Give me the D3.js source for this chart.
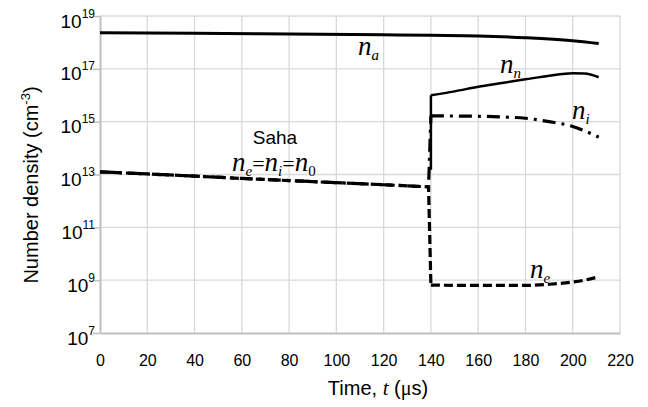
<!DOCTYPE html>
<html lang="en">
<head>
<meta charset="UTF-8">
<title>Number density vs time</title>
<script src="https://d3js.org/d3.v7.min.js"></script>
<style>
    body { margin: 0; background: #fff; }
    svg { display: block; }
    .grid line { stroke: #d9d9d9; stroke-width: 1.3; }
    .tick text { font-family: 'Liberation Sans', Arial, sans-serif; fill: #000; }
    .math { font-family: 'Liberation Serif', 'Times New Roman', serif; font-style: italic; fill: #000; }
</style>
</head>
<body>
<div id="chart"></div>
<script>
    // values (t in microseconds, densities in cm^-3)
    const xTicks = [0, 20, 40, 60, 80, 100, 120, 140, 160, 180, 200, 220];
    const yExponents = [7, 9, 11, 13, 15, 17, 19];

    const naTime = [0, 40, 80, 120, 140, 160, 180, 200, 211];
    const naValues = [2.3e18, 2.2e18, 2.1e18, 1.95e18, 1.85e18, 1.75e18, 1.5e18, 1.15e18, 0.9e18];

    // jump of n_n at t = 140, then the smooth rise
    const nnJump = [1.5e13, 1.0e16];
    const nnTime = [140, 150, 160, 170, 180, 190, 200, 205, 211];
    const nnValues = [1.0e16, 1.4e16, 2.1e16, 2.9e16, 4.0e16, 5.5e16, 6.8e16, 6.6e16, 4.8e16];

    // Saha regime: ne = ni = n0
    const sahaTime = [0, 20, 40, 60, 80, 100, 120, 139];
    const sahaValues = [1.26e13, 1.05e13, 8.7e12, 7.1e12, 5.9e12, 4.9e12, 4.1e12, 3.4e12];

    const niTime = [140, 160, 170, 180, 190, 200, 205, 211];
    const niValues = [1.65e15, 1.6e15, 1.5e15, 1.35e15, 1.0e15, 6.6e14, 4.5e14, 2.6e14];

    const neTime = [140, 160, 180, 190, 200, 205, 211];
    const neValues = [6.5e8, 6.3e8, 6.3e8, 7.0e8, 8.5e8, 1.0e9, 1.35e9];

    const W = 648, H = 407;
    const svg = d3.select("#chart").append("svg")
        .attr("width", W).attr("height", H);

    const x = d3.scaleLinear().domain([0, 220]).range([100, 620]);
    const y = d3.scaleLog().domain([1e7, 1e19]).range([333, 16]);
    const yTicks = yExponents.map(e => Math.pow(10, e));

    // gridlines
    svg.append("g").attr("class", "grid")
        .selectAll("line.v").data(xTicks.slice(1)).enter().append("line")
        .attr("x1", d => x(d)).attr("x2", d => x(d))
        .attr("y1", y(1e19)).attr("y2", y(1e7));
    svg.append("g").attr("class", "grid")
        .selectAll("line.h").data(yTicks.slice(1)).enter().append("line")
        .attr("x1", x(0)).attr("x2", x(220))
        .attr("y1", d => y(d)).attr("y2", d => y(d));

    // y axis
    const yAxis = svg.append("g")
        .attr("transform", `translate(${x(0)},0)`)
        .call(d3.axisLeft(y).tickValues(yTicks).tickSize(7).tickSizeOuter(0).tickFormat(""));
    yAxis.select(".domain").attr("stroke", "#bfbfbf").attr("stroke-width", 2);
    yAxis.selectAll(".tick line").attr("stroke", "#bfbfbf").attr("stroke-width", 1.5);
    yAxis.selectAll(".tick").append("text")
        .attr("x", -5).attr("y", 0).attr("text-anchor", "end")
        .each(function (d, i) {
            const t = d3.select(this);
            t.append("tspan").attr("dy", 11).style("font-size", "19px").text("10");
            t.append("tspan").attr("dy", -10).style("font-size", "12px").text(yExponents[i]);
        });

    // x axis
    const xAxis = svg.append("g")
        .attr("transform", `translate(0,${y(1e7)})`)
        .call(d3.axisBottom(x).tickValues(xTicks).tickSize(0).tickSizeOuter(0).tickPadding(22));
    xAxis.select(".domain").attr("stroke", "#bfbfbf").attr("stroke-width", 2);
    xAxis.selectAll(".tick text").style("font-size", "16px");

    // axis titles
    const xTitle = svg.append("text")
        .attr("x", 378).attr("y", 395).attr("text-anchor", "middle")
        .style("font-family", "'Liberation Sans', Arial, sans-serif").style("font-size", "20px");
    xTitle.append("tspan").text("Time, ");
    xTitle.append("tspan").attr("class", "math").style("font-size", "21px").text("t");
    xTitle.append("tspan").text(" (");
    xTitle.append("tspan").style("font-family", "'Liberation Serif', serif").text("μ");
    xTitle.append("tspan").text("s)");

    const yTitle = svg.append("text")
        .attr("transform", "translate(38,185) rotate(-90)")
        .attr("text-anchor", "middle")
        .style("font-family", "'Liberation Sans', Arial, sans-serif").style("font-size", "20px");
    yTitle.append("tspan").text("Number density (cm");
    yTitle.append("tspan").attr("dy", -8).style("font-size", "13px").text("-3");
    yTitle.append("tspan").attr("dy", 8).text(")");

    // series: straight pieces for Saha part and jumps, smooth curves afterwards
    const straight = d3.line().x(d => x(d[0])).y(d => y(d[1]));
    const smooth = d3.line().curve(d3.curveMonotoneX).x(d => x(d[0])).y(d => y(d[1]));
    const zip = (ts, vs) => ts.map((t, i) => [t, vs[i]]);

    const saha = zip(sahaTime, sahaValues);
    const neD = straight(saha.concat([[neTime[0], neValues[0]]])) + smooth(zip(neTime, neValues));
    const niD = straight(saha.concat([[niTime[0], niValues[0]]])) + smooth(zip(niTime, niValues));
    const nnD = straight([[nnTime[0], nnJump[0]], [nnTime[0], nnJump[1]]]) + smooth(zip(nnTime, nnValues));
    const naD = smooth(zip(naTime, naValues));

    svg.append("path").attr("d", neD)
        .attr("fill", "none").attr("stroke", "#000").attr("stroke-width", 3.2)
        .attr("stroke-dasharray", "9,4");
    svg.append("path").attr("d", niD)
        .attr("fill", "none").attr("stroke", "#000").attr("stroke-width", 3.2)
        .attr("stroke-dasharray", "13,6,3,6");
    svg.append("path").attr("d", nnD)
        .attr("fill", "none").attr("stroke", "#000").attr("stroke-width", 2.5);
    svg.append("path").attr("d", naD)
        .attr("fill", "none").attr("stroke", "#000").attr("stroke-width", 3);

    // annotations
    function mathLabel(px, py, sub) {
        const t = svg.append("text").attr("class", "math")
            .attr("x", px).attr("y", py).style("font-size", "27px");
        t.append("tspan").text("n");
        t.append("tspan").attr("dy", 5).style("font-size", "15px").text(sub);
        return t;
    }
    mathLabel(358, 55, "a");
    mathLabel(500, 73, "n");
    mathLabel(572, 119, "i");
    mathLabel(530, 278, "e");

    svg.append("text").attr("x", 275).attr("y", 144).attr("text-anchor", "middle")
        .style("font-family", "'Liberation Sans', Arial, sans-serif").style("font-size", "19px")
        .text("Saha");

    const eq = svg.append("text").attr("class", "math")
        .attr("x", 232).attr("y", 171).style("font-size", "27px");
    eq.append("tspan").text("n");
    eq.append("tspan").attr("dy", 5).style("font-size", "15px").text("e");
    eq.append("tspan").attr("dy", -5).style("font-style", "normal").style("font-size", "22px").text("=");
    eq.append("tspan").text("n");
    eq.append("tspan").attr("dy", 5).style("font-size", "15px").text("i");
    eq.append("tspan").attr("dy", -5).style("font-style", "normal").style("font-size", "22px").text("=");
    eq.append("tspan").text("n");
    eq.append("tspan").attr("dy", 5).style("font-size", "15px").style("font-style", "normal").text("0");
</script>
</body>
</html>
